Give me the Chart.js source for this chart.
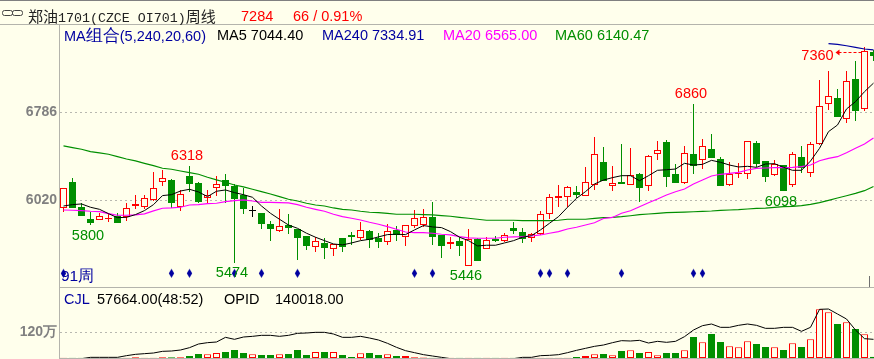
<!DOCTYPE html>
<html>
<head>
<meta charset="utf-8">
<script src="https://cdn.jsdelivr.net/npm/chart.js@4"></script>
<style>
  html, body { margin: 0; padding: 0; background: #FFFFEC; overflow: hidden; width: 874px; height: 359px; }
  #wrap { position: relative; width: 874px; height: 359px; overflow: hidden; }
  canvas { position: absolute; left: 0; }
  .t { position: absolute; white-space: pre; font: 14.5px "Liberation Sans", sans-serif; line-height: 16px; z-index: 2; }
  .rule { position: absolute; background: #B4B4AC; z-index: 1; }
</style>
</head>
<body>
<div id="wrap">
  <div class="rule" style="left:0;top:0;width:874px;height:1px;background:#808080"></div>
  <div class="rule" style="left:0;top:24px;width:874px;height:1px"></div>
  <div class="rule" style="left:59px;top:287px;width:815px;height:1px"></div>
  <div class="rule" style="left:59px;top:358px;width:815px;height:1px"></div>

  <svg style="position:absolute;left:2px;top:9px" width="21" height="8" viewBox="0 0 21 8">
    <rect x="0.5" y="1.5" width="10" height="5" rx="2" fill="none" stroke="#444"/>
    <rect x="10.5" y="1.5" width="10" height="5" rx="2" fill="none" stroke="#444"/>
  </svg>
  <div class="t" style="left:28px;top:5px;color:#222"><span style="font:15px 'Noto Sans CJK SC'">郑油</span><span style="font:13.3px 'Liberation Mono'">1701(CZCE OI701)</span><span style="font:15px 'Noto Sans CJK SC'">周线</span></div>
  <div class="t" style="left:241px;top:8px;color:#FF0000">7284</div>
  <div class="t" style="left:293px;top:8px;color:#FF0000">66 / 0.91%</div>

  <div class="t" style="left:64px;top:27px;color:#0000A0">MA<span style="font-size:16.5px">组合</span>(5,240,20,60)</div>
  <div class="t" style="left:217px;top:27px;color:#000">MA5 7044.40</div>
  <div class="t" style="left:322px;top:27px;color:#0000A0">MA240 7334.91</div>
  <div class="t" style="left:443px;top:27px;color:#FF00FF">MA20 6565.00</div>
  <div class="t" style="left:555px;top:27px;color:#008F00">MA60 6140.47</div>

  <div class="t" style="left:61px;top:268px;color:#0000A0;font-size:15.5px">91周</div>

  <div class="t" style="left:64px;top:291px;color:#0000A0">CJL</div>
  <div class="t" style="left:97px;top:291px;color:#000">57664.00(48:52)</div>
  <div class="t" style="left:224px;top:291px;color:#000">OPID</div>
  <div class="t" style="left:275px;top:291px;color:#000">140018.00</div>

  <canvas id="priceChart" width="878" height="262" style="top:25px"></canvas>
  <canvas id="volChart" width="878" height="70" style="top:288px"></canvas>
</div>

<script>
const opens = [5956,6180,5959,5854,5851,5854,5886,5877,5968,5962,6020,6177,6198,5959,6236,6171,6037,6125,6195,6148,6067,5924,5909,5813,5755,5804,5769,5708,5615,5644,5592,5691,5717,5694,5752,5688,5659,5758,5702,5796,5804,5874,5717,5635,5665,5446,5679,5598,5679,5667,5778,5743,5694,5723,5903,6043,6052,6093,6061,6151,6354,6148,6180,6156,6250,6142,6421,6529,6250,6174,6424,6369,6468,6381,6156,6247,6247,6520,6363,6244,6328,6151,6398,6255,6515,6858,6914,6727,7080,6821,7319];
const closes = [6125,5956,5883,5822,5886,5866,5825,5950,5985,6037,6125,6212,6000,6075,6166,6008,6067,6160,6148,6032,5947,5924,5813,5769,5793,5781,5691,5621,5662,5603,5635,5615,5700,5758,5676,5656,5749,5714,5801,5863,5871,5700,5621,5653,5621,5679,5490,5670,5665,5714,5755,5679,5729,5898,6046,6055,6134,6067,6177,6421,6191,6168,6165,6238,6130,6404,6456,6226,6174,6430,6322,6491,6389,6148,6250,6261,6535,6337,6223,6334,6101,6421,6302,6509,6841,6928,6748,7059,6803,7324,7284];
const highs = [6125,6212,5994,5921,5912,5906,5906,5994,6064,6064,6268,6285,6203,6110,6318,6180,6110,6233,6250,6160,6131,5970,5909,5839,5944,5901,5769,5708,5700,5688,5635,5691,5743,5831,5761,5735,5810,5793,5801,5935,5944,6005,5717,5700,5702,5769,5688,5697,5708,5732,5831,5778,5737,5924,6075,6154,6145,6145,6311,6570,6486,6319,6512,6477,6261,6413,6535,6547,6334,6494,6860,6555,6599,6401,6354,6343,6535,6538,6363,6372,6328,6442,6494,6529,7071,7150,6992,7150,7237,7360,7333];
const lows = [5921,5956,5883,5800,5848,5834,5819,5842,5944,5941,6017,6148,5953,5927,6096,5994,5994,6058,6000,5474,5901,5877,5772,5665,5746,5726,5499,5586,5568,5507,5533,5568,5630,5673,5603,5600,5630,5665,5621,5775,5790,5630,5516,5595,5533,5446,5490,5598,5656,5659,5726,5644,5656,5714,5854,5959,5965,6037,6061,6110,6191,6101,6165,6151,6008,6104,6372,6139,6174,6162,6250,6296,6389,6148,6148,6212,6206,6308,6183,6232,6098,6133,6255,6226,6503,6809,6748,6698,6716,6800,7240];

const ma5 = [5970,5982,5988,5959,5941,5903,5868,5871,5895,5930,5982,6061,6069,6101,6116,6093,6052,6099,6110,6087,6069,6046,5970,5906,5854,5804,5775,5732,5697,5667,5638,5630,5647,5667,5679,5700,5720,5723,5720,5761,5799,5787,5781,5746,5697,5667,5621,5627,5627,5647,5667,5697,5711,5761,5819,5877,5959,6037,6096,6162,6197,6218,6235,6235,6191,6235,6282,6287,6293,6343,6328,6334,6369,6352,6328,6311,6317,6308,6337,6340,6308,6282,6282,6363,6474,6620,6678,6818,6882,6969,7044];
const ma20 = [5935,5933,5930,5924,5921,5903,5889,5889,5892,5901,5927,5950,5953,5959,5979,5982,5991,5994,6008,6017,6023,6014,6002,6002,6000,5997,5982,5959,5941,5924,5898,5877,5863,5848,5828,5810,5790,5767,5743,5737,5737,5732,5723,5717,5702,5691,5688,5688,5688,5697,5700,5702,5708,5717,5732,5746,5769,5784,5804,5824,5861,5870,5906,5929,5964,5999,6031,6066,6095,6119,6162,6197,6232,6247,6255,6264,6285,6299,6302,6305,6305,6308,6314,6328,6366,6386,6401,6436,6474,6512,6565];
const ma60 = [6495,6480,6466,6445,6434,6422,6402,6381,6364,6343,6323,6300,6291,6276,6262,6247,6221,6198,6177,6154,6137,6116,6096,6075,6052,6029,6014,5994,5979,5970,5953,5941,5935,5924,5915,5912,5906,5898,5898,5898,5895,5892,5886,5880,5871,5863,5854,5845,5845,5845,5845,5842,5842,5842,5842,5845,5854,5854,5854,5862,5868,5871,5877,5885,5894,5900,5906,5912,5914,5917,5920,5923,5926,5932,5935,5938,5944,5949,5952,5958,5964,5967,5973,5984,5999,6019,6040,6060,6080,6104,6140];
// MA240 only comes into the picture for the last few weeks
const ma240Tail = [7389,7383,7371,7357,7342,7335];

const volumes = [8000,8000,8000,8000,8000,8000,8000,8000,31000,10000,12000,31000,31000,31000,93000,187000,171000,234000,280000,374000,234000,171000,140000,140000,171000,187000,374000,140000,280000,280000,280000,140000,47000,218000,234000,140000,171000,93000,93000,31000,20000,10000,10000,10000,10000,10000,10000,10000,10000,10000,10000,10000,10000,10000,10000,10000,10000,47000,93000,171000,187000,125000,327000,358000,234000,280000,125000,234000,234000,358000,981000,732000,1121000,747000,545000,498000,778000,654000,514000,498000,374000,685000,514000,872000,2273000,2133000,1588000,1666000,1354000,1105000,57664];
const openInterest = [-5000,-5000,-5000,5000,5000,5000,5000,17500,27500,32500,37500,50000,52500,60000,77500,105000,115000,120000,155000,140000,157500,162500,170000,170000,162500,170000,185000,187500,192500,192500,180000,155000,155000,162500,150000,135000,110000,80000,55000,40000,25000,15000,5000,-5000,-5000,-5000,-5000,-5000,-5000,-5000,-5000,5000,5000,17500,20000,25000,40000,57500,72500,87500,97500,115000,130000,127500,132500,112500,125000,117500,125000,160000,210000,242500,255000,230000,230000,245000,255000,245000,222500,222500,230000,230000,200000,230000,365000,367500,330000,292500,210000,145000,140018];

const priceTicks = [6786, 6020];
const volTicks = [1200000];
const signalWeeks = [0,12,14,19,22,26,39,41,53,54,56,62,70,71];
const signalLevel = 5382;
const highLabels = [[14,6318],[70,6860]];
const lowLabels = [[3,5800],[19,5474],[45,5446],[80,6098]];
const peakLabel = [89,7360];

const BG = '#FFFFEC', RED = '#FF0000', GREEN = '#008F00', NAVY = '#0000A0', MAGENTA = '#FF00FF';
const labels = opens.map((o, i) => String(i));
const ma240 = labels.map((l, i) => i < labels.length - ma240Tail.length ? null : ma240Tail[i - (labels.length - ma240Tail.length)]);
const signals = labels.map((l, i) => signalWeeks.includes(i) ? signalLevel : null);

const lineColor = i => closes[i] > opens[i] ? RED : closes[i] < opens[i] ? GREEN : '#000';
const bodyFill = i => closes[i] > opens[i] ? BG : closes[i] < opens[i] ? GREEN : '#000';

// tall narrow diamond, rectRot comes out too wide
const diamond = document.createElement('canvas');
diamond.width = 7; diamond.height = 11;
const dctx = diamond.getContext('2d');
dctx.fillStyle = NAVY;
dctx.beginPath();
dctx.moveTo(3.5, 1); dctx.lineTo(6.2, 5.5); dctx.lineTo(3.5, 10); dctx.lineTo(0.8, 5.5);
dctx.closePath();
dctx.fill();

function leftAxis(min, max, ticks, fmt) {
  return {
    min: min,
    max: max,
    afterBuildTicks: s => { s.ticks = ticks.map(v => ({ value: v })); },
    afterFit: s => {
      s.width = 59;
      // tick label height would otherwise shrink the chart area
      s.paddingTop = 0; s.paddingBottom = 0; s.paddingLeft = 0; s.paddingRight = 0;
    },
    grid: { color: '#B8B8B0', tickLength: 0, lineWidth: 1 },
    border: { display: true, color: '#B4B4AC', dash: [2, 3] },
    ticks: {
      padding: 2,
      color: '#808080',
      font: { family: '"Liberation Sans"', size: 14, weight: 'bold' },
      callback: fmt
    }
  };
}

// the bars get whole pixel edges, the original is not antialiased
const snapBars = {
  id: 'snapBars',
  afterDatasetsUpdate(chart) {
    chart.getSortedVisibleDatasetMetas().forEach(meta => {
      if (meta.type !== 'bar') return;
      meta.data.forEach(b => {
        b.y = Math.round(b.y);
        b.base = Math.round(b.base);
        if (b.y === b.base) b.base = b.y + 1;
      });
    });
  }
};

const pricePlugin = {
  id: 'priceMarks',
  afterDatasetsDraw(chart) {
    const c = chart.ctx, x = chart.scales.x, y = chart.scales.y;
    c.save();
    c.font = '14.5px "Liberation Sans"';
    c.textAlign = 'center';
    c.textBaseline = 'middle';
    c.fillStyle = RED;
    highLabels.forEach(l => c.fillText(String(l[1]), x.getPixelForValue(l[0]) - 2.5, y.getPixelForValue(l[1]) - 10.5));
    c.fillStyle = GREEN;
    lowLabels.forEach(l => c.fillText(String(l[1]), x.getPixelForValue(l[0]) - 2.5, y.getPixelForValue(l[1]) + 10.5));

    // highest price, dashed arrow going out to the left of the candle
    const px = x.getPixelForValue(peakLabel[0]), py = Math.round(y.getPixelForValue(peakLabel[1]) + 5.5) + 0.5;
    c.fillStyle = RED;
    c.fillText(String(peakLabel[1]), px - 47, py + 3.5);
    c.strokeStyle = RED;
    c.setLineDash([3, 2]);
    c.beginPath();
    c.moveTo(px - 3, py);
    c.lineTo(px - 28, py);
    c.stroke();
    c.setLineDash([]);
    c.beginPath();
    c.moveTo(px - 29, py);
    c.lineTo(px - 25, py - 3);
    c.lineTo(px - 25, py + 3);
    c.closePath();
    c.fill();

    // little time tick on the bottom edge
    c.strokeStyle = '#707070';
    c.beginPath();
    c.moveTo(869.5, chart.chartArea.bottom);
    c.lineTo(869.5, chart.chartArea.bottom - 11);
    c.stroke();
    c.restore();
  }
};

new Chart(document.getElementById('priceChart').getContext('2d'), {
  data: {
    labels: labels,
    datasets: [
      { type: 'line', data: ma5, borderColor: '#000', borderWidth: 1, pointRadius: 0, order: 1 },
      { type: 'line', data: ma20, borderColor: MAGENTA, borderWidth: 1.15, pointRadius: 0, order: 2 },
      { type: 'line', data: ma60, borderColor: GREEN, borderWidth: 1.15, pointRadius: 0, order: 3 },
      { type: 'line', data: ma240, borderColor: NAVY, borderWidth: 1.15, pointRadius: 0, order: 4 },
      { type: 'line', data: signals, showLine: false, pointStyle: diamond, pointRadius: 5, order: 5 },
      {
        type: 'bar',
        data: opens.map((o, i) => [o, closes[i]]),
        grouped: false,
        barThickness: 7,
        minBarLength: 1,
        inflateAmount: 0,
        borderWidth: 1,
        borderSkipped: false,
        borderColor: labels.map((l, i) => lineColor(i)),
        backgroundColor: labels.map((l, i) => bodyFill(i)),
        order: 6
      },
      {
        type: 'bar',
        data: lows.map((l, i) => [l, highs[i]]),
        grouped: false,
        barThickness: 1,
        inflateAmount: 0,
        borderWidth: 0,
        backgroundColor: labels.map((l, i) => lineColor(i)),
        order: 7
      }
    ]
  },
  options: {
    responsive: false,
    animation: false,
    // otherwise the point size of the markers pads the plot area
    layout: { padding: 0, autoPadding: false },
    plugins: { legend: { display: false }, tooltip: { enabled: false } },
    scales: {
      x: { display: false, offset: true, grid: { display: false } },
      y: leftAxis(5262, 7552, priceTicks, v => String(v))
    }
  },
  plugins: [snapBars, pricePlugin]
});

new Chart(document.getElementById('volChart').getContext('2d'), {
  data: {
    labels: labels,
    datasets: [
      { type: 'line', data: openInterest, yAxisID: 'y2', borderColor: '#000', borderWidth: 1, pointRadius: 0, order: 1 },
      {
        type: 'bar',
        data: volumes,
        grouped: false,
        barThickness: 7,
        inflateAmount: 0,
        borderWidth: 1,
        borderSkipped: false,
        borderColor: labels.map((l, i) => closes[i] >= opens[i] ? RED : GREEN),
        backgroundColor: labels.map((l, i) => closes[i] >= opens[i] ? BG : GREEN),
        order: 2
      }
    ]
  },
  options: {
    responsive: false,
    animation: false,
    layout: { padding: 0, autoPadding: false },
    plugins: { legend: { display: false }, tooltip: { enabled: false } },
    scales: {
      x: { display: false, offset: true, grid: { display: false } },
      y: leftAxis(0, 3269000, volTicks, v => (v / 10000) + '万'),
      y2: { display: false, min: 0, max: 525000 }
    }
  }
});
</script>
</body>
</html>
